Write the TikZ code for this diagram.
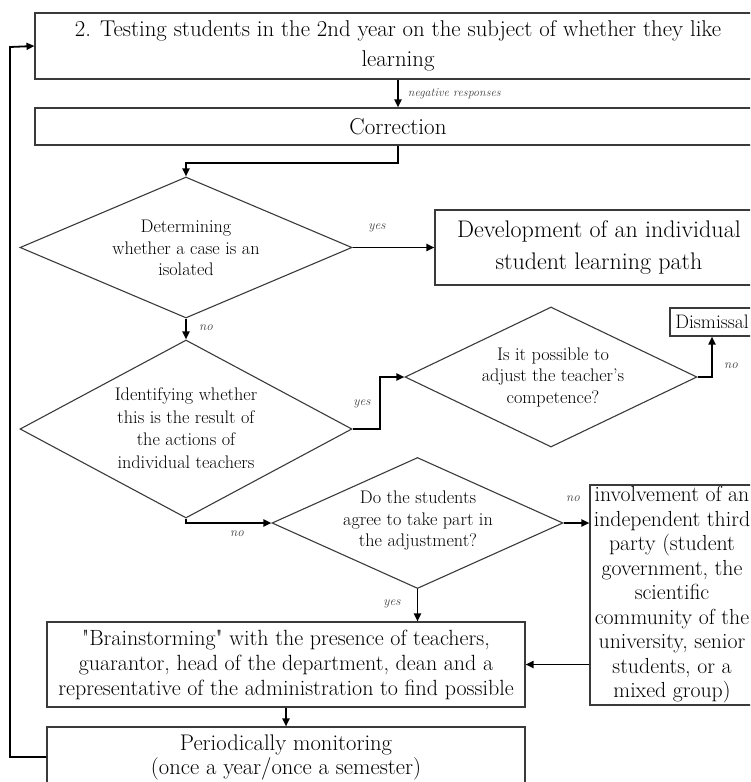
\documentclass[tikz,border=0pt]{standalone}
\usetikzlibrary{shapes.geometric,arrows.meta}
\definecolor{boxgray}{HTML}{3A3A3A}
\tikzset{
  box/.style={draw=boxgray, line width=1.1pt, inner sep=0pt, align=center},
  dia/.style={draw=boxgray, line width=1.1pt, diamond, inner sep=0pt, shape aspect=1},
  dtext/.style={align=center, inner sep=0pt, font=\fontsize{18.2}{21.5}\selectfont},
  conn/.style={line width=1.8pt, -{Triangle[length=8pt,width=7pt]}},
  lab/.style={font=\fontsize{13}{15}\selectfont\itshape, text=black!75, inner sep=1pt}
}
\begin{document}
\begin{tikzpicture}[x=1pt,y=-1pt]
\useasboundingbox (0,0) rectangle (750,782);
\clip (0,0) rectangle (750,782);
% boxes
\node[box, minimum width=726pt, minimum height=66pt, font=\fontsize{22.8}{30}\selectfont] (test) at (398,46)
  {2. Testing students in the 2nd year on the subject of whether they like\\learning};
\node[box, minimum width=726pt, minimum height=37pt, font=\fontsize{23}{26}\selectfont] (corr) at (398,126.5) {Correction};
\node[box, minimum width=328pt, minimum height=75pt, font=\fontsize{24}{32}\selectfont] (dev) at (599,247.5)
  {Development of an individual\\student learning path};
\node[box, minimum width=84pt, minimum height=28pt, font=\fontsize{19.5}{22}\selectfont] (dism) at (712,322) {Dismissal};
\node[box, minimum width=164pt, minimum height=220pt, font=\fontsize{21.8}{24.5}\selectfont] (inv) at (672,595)
  {involvement of an\\independent third\\party (student\\government, the\\scientific\\community of the\\university, senior\\students, or a\\mixed group)};
\node[box, minimum width=478pt, minimum height=85pt, font=\fontsize{22}{25}\selectfont] (brain) at (286,664.5)
  {\textquotedbl Brainstorming\textquotedbl\ with the presence of teachers,\\guarantor, head of the department, dean and a\\representative of the administration to find possible};
\node[box, minimum width=478pt, minimum height=60pt, font=\fontsize{22.6}{24}\selectfont] (mon) at (286,757)
  {Periodically monitoring\\(once a year/once a semester)};
% diamonds
\node[dia, minimum width=332pt, minimum height=141pt] (d1) at (186,247.5) {};
\node[dtext] (d1t) at (186,248) {Determining\\whether a case is an\\isolated};
\node[dia, minimum width=332pt, minimum height=178pt] (d2) at (186,429) {};
\node[dtext, font=\fontsize{18.2}{22.5}\selectfont] (d2t) at (186,428) {Identifying whether\\this is the result of\\the actions of\\individual teachers};
\node[dia, minimum width=292pt, minimum height=140pt] (d3) at (551,377) {};
\node[dtext] (d3t) at (553,377) {Is it possible to\\adjust the teacher's\\competence?};
\node[dia, minimum width=291pt, minimum height=131pt] (d4) at (417.5,523) {};
\node[dtext] (d4t) at (418,521) {Do the students\\agree to take part in\\the adjustment?};
% connectors
\draw[conn] (test.south) -- node[lab, right, xshift=8pt, font=\fontsize{12}{14}\selectfont\itshape] (negl) {negative responses} (corr.north);
\draw[conn] (corr.south) |- (186,163) -- (d1.north);
\draw[conn] (d1.east) -- (dev.west);
\node[lab] (yes1) at (377,228) {yes};
\draw[conn] (d1.south) -- (d2.north);
\node[lab] (no1) at (206,328) {no};
\draw[conn] (d2.east) -| (380,377) -- (d3.west);
\node[lab] (yes2) at (362,404) {yes};
\draw[conn] (d3.east) -| (dism.south);
\node[lab] (no2) at (731,366) {no};
\draw[conn] (d2.south) |- (d4.west);
\node[lab] (no3) at (237,534) {no};
\draw[conn] (d4.east) -- (inv.west |- d4.east);
\node[lab] (no4) at (573,499) {no};
\draw[conn] (d4.south) -- (d4.south |- brain.north);
\node[lab] (yes3) at (392,604) {yes};
\draw[conn] (inv.west |- brain.east) -- (brain.east);
\draw[conn] (brain.south) -- (mon.north);
\draw[conn] (mon.west) -| (10,47) -- (test.west);
\end{tikzpicture}
\end{document}
